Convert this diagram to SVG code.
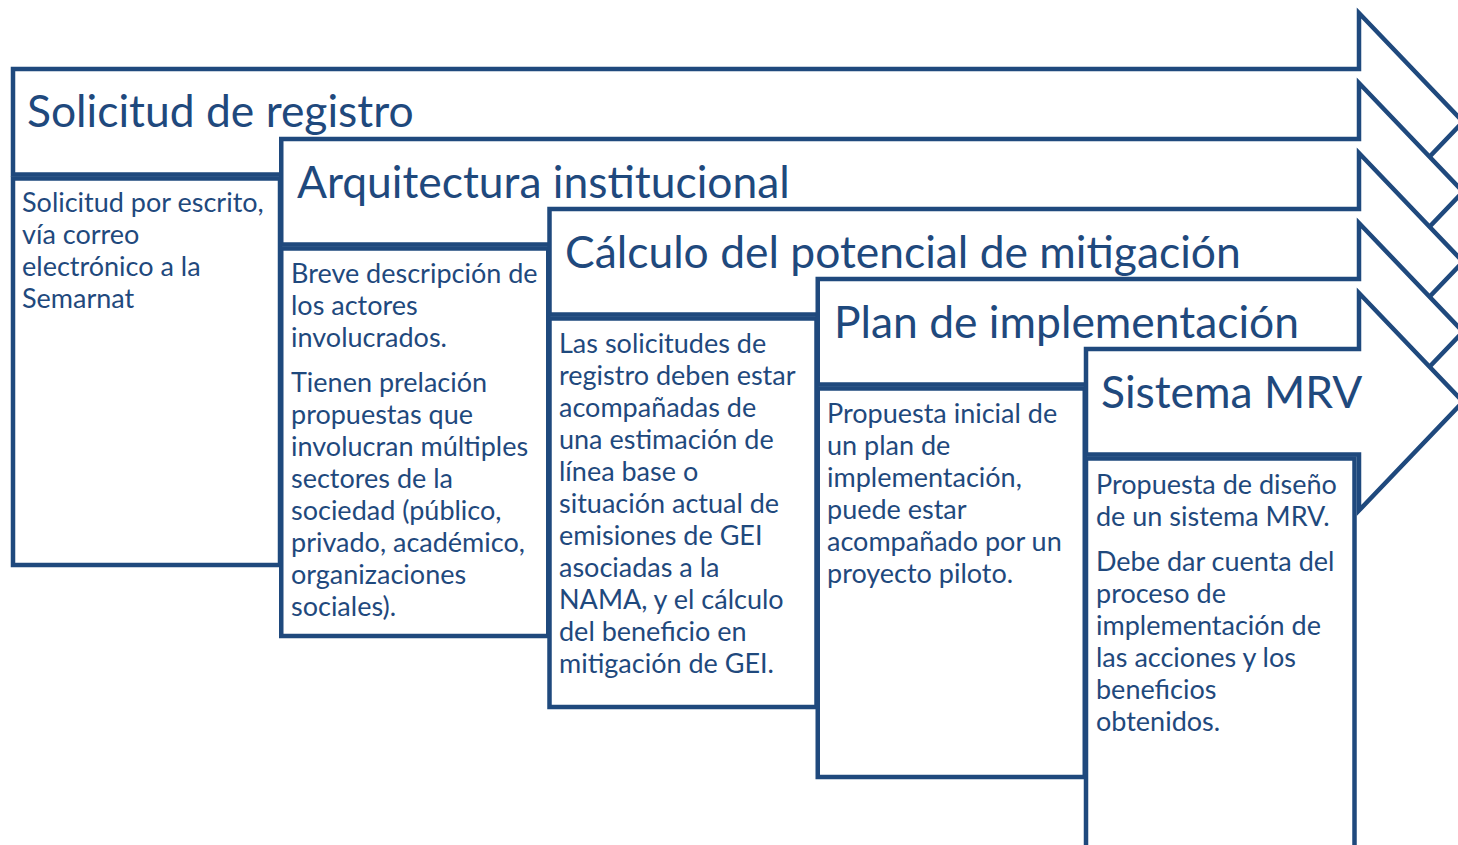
<svg xmlns="http://www.w3.org/2000/svg" width="1458" height="845" viewBox="0 0 1458 845">
<style>
.shp{fill:#fff;stroke:#1F497D;stroke-width:4.5;stroke-linejoin:miter;stroke-miterlimit:10}
.ttl{font-family:Lato,"Liberation Sans",sans-serif;font-size:44.4px;fill:#1F497D}
.bd{font-family:Lato,"Liberation Sans",sans-serif;font-size:27px;fill:#1F497D}
</style>
<rect x="0" y="0" width="1458" height="845" fill="#fff"/>
<g id="step1">
<path class="shp" d="M13,69 H1359 V13 L1463,121.75 L1359,230.5 V174.5 H13 Z"/>
<rect class="shp" x="13" y="178.5" width="267" height="386.5"/>
<text class="ttl" x="27" y="127">Solicitud de registro</text>
<text class="bd"><tspan x="22" y="212">Solicitud por escrito,</tspan><tspan x="22" y="244">vía correo</tspan><tspan x="22" y="276">electrónico a la</tspan><tspan x="22" y="308">Semarnat</tspan></text>
</g>
<g id="step2">
<path class="shp" d="M281.25,139 H1359 V83 L1463,191.75 L1359,300.5 V244.5 H281.25 Z"/>
<rect class="shp" x="281.25" y="248.5" width="267" height="387.5"/>
<text class="ttl" x="297" y="198">Arquitectura institucional</text>
<text class="bd"><tspan x="291" y="283">Breve descripción de</tspan><tspan x="291" y="315">los actores</tspan><tspan x="291" y="347">involucrados.</tspan><tspan x="291" y="392">Tienen prelación</tspan><tspan x="291" y="424">propuestas que</tspan><tspan x="291" y="456">involucran múltiples</tspan><tspan x="291" y="488">sectores de la</tspan><tspan x="291" y="520">sociedad (público,</tspan><tspan x="291" y="552">privado, académico,</tspan><tspan x="291" y="584">organizaciones</tspan><tspan x="291" y="616">sociales).</tspan></text>
</g>
<g id="step3">
<path class="shp" d="M549.5,209 H1359 V153 L1463,261.75 L1359,370.5 V314.5 H549.5 Z"/>
<rect class="shp" x="549.5" y="318.5" width="267" height="388.5"/>
<text class="ttl" x="565" y="268">Cálculo del potencial de mitigación</text>
<text class="bd"><tspan x="559" y="353">Las solicitudes de</tspan><tspan x="559" y="385">registro deben estar</tspan><tspan x="559" y="417">acompañadas de</tspan><tspan x="559" y="449">una estimación de</tspan><tspan x="559" y="481">línea base o</tspan><tspan x="559" y="513">situación actual de</tspan><tspan x="559" y="545">emisiones de GEI</tspan><tspan x="559" y="577">asociadas a la</tspan><tspan x="559" y="609">NAMA, y el cálculo</tspan><tspan x="559" y="641">del beneficio en</tspan><tspan x="559" y="673">mitigación de GEI.</tspan></text>
</g>
<g id="step4">
<path class="shp" d="M817.75,279 H1359 V223 L1463,331.75 L1359,440.5 V384.5 H817.75 Z"/>
<rect class="shp" x="817.75" y="388.5" width="267" height="388.5"/>
<text class="ttl" x="834" y="338">Plan de implementación</text>
<text class="bd"><tspan x="827" y="423">Propuesta inicial de</tspan><tspan x="827" y="455">un plan de</tspan><tspan x="827" y="487">implementación,</tspan><tspan x="827" y="519">puede estar</tspan><tspan x="827" y="551">acompañado por un</tspan><tspan x="827" y="583">proyecto piloto.</tspan></text>
</g>
<g id="step5">
<path class="shp" d="M1086,349 H1359 V293 L1463,401.75 L1359,510.5 V454.5 H1086 Z"/>
<rect class="shp" x="1086" y="458.5" width="268.5" height="400"/>
<text class="ttl" x="1101" y="408">Sistema MRV</text>
<text class="bd"><tspan x="1096" y="494">Propuesta de diseño</tspan><tspan x="1096" y="526">de un sistema MRV.</tspan><tspan x="1096" y="571">Debe dar cuenta del</tspan><tspan x="1096" y="603">proceso de</tspan><tspan x="1096" y="635">implementación de</tspan><tspan x="1096" y="667">las acciones y los</tspan><tspan x="1096" y="699">beneficios</tspan><tspan x="1096" y="731">obtenidos.</tspan></text>
</g>
<g id="connectors"></g>
</svg>
